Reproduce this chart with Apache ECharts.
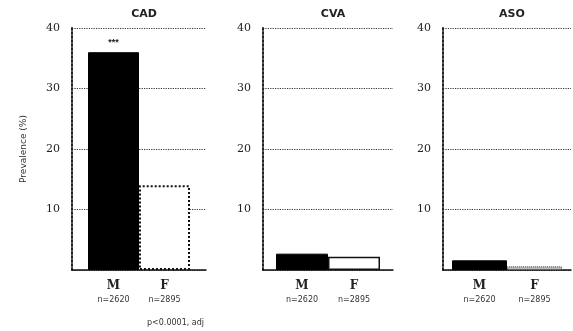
<!DOCTYPE html>
<html>
<head>
<meta charset="utf-8">
<script src="https://cdn.jsdelivr.net/npm/echarts@6/dist/echarts.min.js"></script>
<style>
  html, body { margin: 0; padding: 0; background: #fff; }
  #chart { width: 573px; height: 331px; }
</style>
</head>
<body>
<div id="chart"></div>
<script>
// 数据
const panels = ["CAD", "CVA", "ASO"];
const maleCounts = ["n=2620", "n=2620", "n=2620"];
const femaleCounts = ["n=2895", "n=2895", "n=2895"];
const maleValues = [36, 2.7, 1.6];
const femaleValues = [14, 2.2, 0.6];
const maleMarks = ["***", "", ""];
const yTicks = [10, 20, 30, 40];

const grids = [
  { left: 72, width: 134, top: 28, height: 242 },
  { left: 263, width: 130, top: 28, height: 242 },
  { left: 443, width: 128, top: 28, height: 242 },
];
const barW = [51, 52, 55];
// 女性柱子边框样式（扫描图里三块各不一样）
const femaleStyle = [
  { color: "#fff", borderColor: "#111", borderWidth: 2, borderType: "dotted" },
  { color: "#fff", borderColor: "#111", borderWidth: 1.5 },
  { color: "#bbb", borderColor: "#444", borderWidth: 1, borderType: "dotted" },
];

let myChart = echarts.init(document.getElementById("chart"));

let xAxes = [];
let yAxes = [];
let seriesArr = [];
let titles = [];

const labelRich = {
  s: { fontSize: 12, fontWeight: "bold", fontFamily: "DejaVu Serif", color: "#222", lineHeight: 16 },
  n: { fontSize: 8, fontFamily: "DejaVu Sans", color: "#333", lineHeight: 11 },
};
function sexLabel(sex, n) {
  return {
    show: true,
    position: "bottom",
    distance: 8,
    formatter: "{s|" + sex + "}\n{n|" + n + "}",
    rich: labelRich,
  };
}

panels.forEach((name, i) => {
  titles.push({
    text: name,
    left: grids[i].left + grids[i].width / 2,
    top: 4,
    textAlign: "center",
    textStyle: { fontSize: 11, fontWeight: "bold", color: "#222", fontFamily: "DejaVu Sans" },
  });
  xAxes.push({
    type: "category",
    gridIndex: i,
    data: [name],
    axisTick: { show: false },
    axisLabel: { show: false },
    axisLine: { show: true, lineStyle: { color: "#111", width: 1.5 } },
  });
  yAxes.push({
    type: "value",
    gridIndex: i,
    min: 0,
    max: 40,
    interval: 10,
    axisLine: { show: true, lineStyle: { color: "#222", type: "dotted", width: 2 } },
    axisTick: { show: false },
    axisLabel: {
      color: "#222",
      fontSize: 11,
      fontFamily: "DejaVu Serif",
      margin: 12,
      formatter: (v) => (yTicks.indexOf(v) >= 0 ? v : ""),
    },
    splitLine: { show: true, lineStyle: { color: "#333", type: "dotted", width: 1.2 } },
    name: i === 0 ? "Prevalence (%)" : "",
    nameLocation: "middle",
    nameGap: 44,
    nameTextStyle: { fontSize: 9, color: "#333", fontFamily: "DejaVu Sans" },
  });
  let maleSeries = {
    name: "M",
    type: "bar",
    xAxisIndex: i,
    yAxisIndex: i,
    barWidth: barW[i],
    barGap: "0%",
    data: [maleValues[i]],
    itemStyle: { color: "#000", borderColor: "#000", borderWidth: 1 },
    label: sexLabel("M", maleCounts[i]),
    silent: true,
  };
  if (maleMarks[i]) {
    // 显著性星号
    maleSeries.markPoint = {
      symbol: "circle",
      symbolSize: 2,
      itemStyle: { color: "rgba(0,0,0,0)" },
      silent: true,
      data: [{ type: "max" }],
      label: {
        show: true,
        position: "top",
        distance: 4,
        formatter: maleMarks[i],
        fontSize: 9,
        fontWeight: "bold",
        color: "#222",
      },
    };
  }
  seriesArr.push(maleSeries);
  seriesArr.push({
    name: "F",
    type: "bar",
    xAxisIndex: i,
    yAxisIndex: i,
    barWidth: barW[i],
    barGap: "0%",
    data: [femaleValues[i]],
    itemStyle: femaleStyle[i],
    label: sexLabel("F", femaleCounts[i]),
    silent: true,
  });
});

myChart.setOption({
  animation: false,
  backgroundColor: "#fff",
  title: titles.concat([
    {
      text: "p<0.0001, adj",
      left: 142,
      top: 314,
      textStyle: { fontSize: 8, fontWeight: "normal", color: "#333", fontFamily: "DejaVu Sans" },
    },
  ]),
  grid: grids,
  xAxis: xAxes,
  yAxis: yAxes,
  series: seriesArr,
});
</script>
</body>
</html>
